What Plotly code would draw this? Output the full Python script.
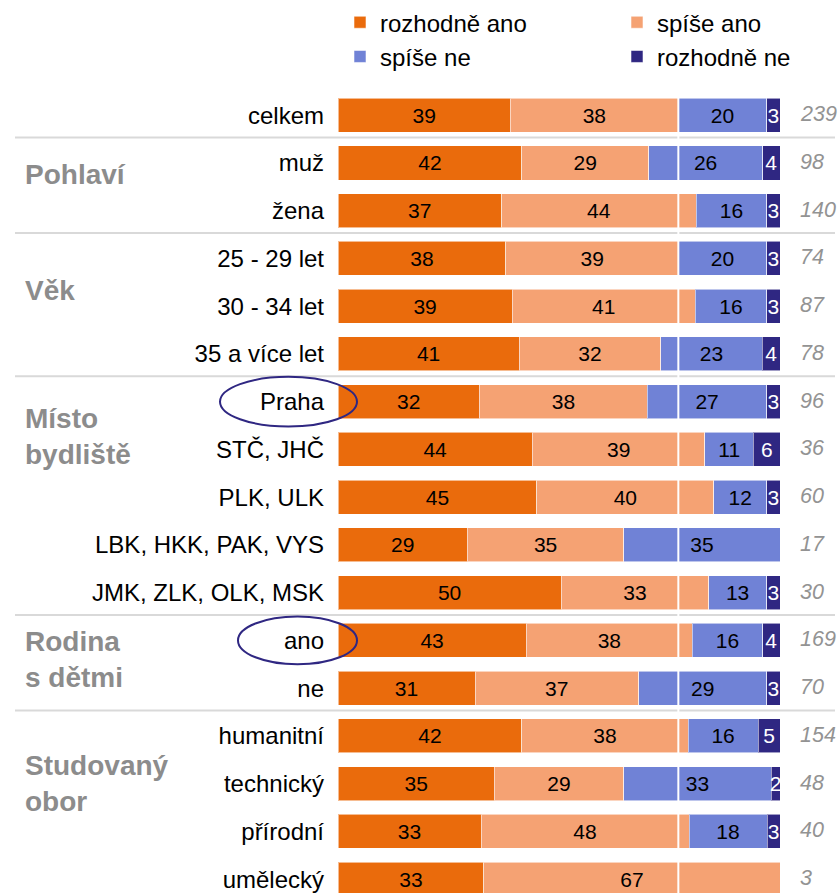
import plotly.graph_objects as go

categories = ["celkem", "muž", "žena", "25 - 29 let", "30 - 34 let", "35 a více let",
              "Praha", "STČ, JHČ", "PLK, ULK", "LBK, HKK, PAK, VYS", "JMK, ZLK, OLK, MSK",
              "ano", "ne", "humanitní", "technický", "přírodní", "umělecký"]
rozhodne_ano = [39, 42, 37, 38, 39, 41, 32, 44, 45, 29, 50, 43, 31, 42, 35, 33, 33]
spise_ano = [38, 29, 44, 39, 41, 32, 38, 39, 40, 35, 33, 38, 37, 38, 29, 48, 67]
spise_ne = [20, 26, 16, 20, 16, 23, 27, 11, 12, 35, 13, 16, 29, 16, 33, 18, 0]
rozhodne_ne = [3, 4, 3, 3, 3, 4, 3, 6, 3, 0, 3, 4, 3, 5, 2, 3, 0]
n_counts = [239, 98, 140, 74, 87, 78, 96, 36, 60, 17, 30, 169, 70, 154, 48, 40, 3]
series_names = ["rozhodně ano", "spíše ano", "spíše ne", "rozhodně ne"]
group_names = ["Pohlaví", "Věk", "Místo<br>bydliště", "Rodina<br>s dětmi", "Studovaný<br>obor"]
highlighted = ["Praha", "ano"]

# styling / layout constants
W, H = 840, 893
ML, MR, MT, MB = 338, 60, 80, 0
PW = W - ML - MR
PH = H - MT - MB
ROW_PX = 48.1
Y_TOP = -(109.4 - MT) / ROW_PX
Y_BOT = Y_TOP + PH / ROW_PX
colors = ["#EA6B0C", "#F5A273", "#7082D6", "#2F2782"]
text_colors = ["black", "black", "black", "white"]
FONT = "Liberation Sans, Arial, sans-serif"
group_label_y = [1.25, 3.68, 6.73, 11.39, 14.0]
separator_after = [0, 2, 5, 10, 12]

ypos = list(range(len(categories)))
series = [rozhodne_ano, spise_ano, spise_ne, rozhodne_ne]
totals = [sum(s[i] for s in series) for i in ypos]

fig = go.Figure()
for k, (name, vals) in enumerate(zip(series_names, series)):
    xs = [v / t * 100 if v else None for v, t in zip(vals, totals)]
    txt = [str(v) if v else "" for v in vals]
    fig.add_trace(go.Bar(
        y=ypos, x=xs, orientation="h", name=name,
        marker=dict(color=colors[k], line=dict(color="rgba(255,255,255,0.55)", width=1)),
        text=txt, textposition="inside", insidetextanchor="middle", textangle=0,
        textfont=dict(size=21, color=text_colors[k], family=FONT),
        width=0.715, cliponaxis=False,
        legend="legend" if k in (0, 2) else "legend2",
    ))

fig.update_layout(
    width=W, height=H, barmode="stack", bargap=0.3,
    margin=dict(l=ML, r=MR, t=MT, b=MB, pad=0),
    plot_bgcolor="white", paper_bgcolor="white",
    font=dict(family=FONT, size=24, color="black"),
    uniformtext=dict(minsize=21, mode="show"),
    xaxis=dict(range=[0, 100], visible=False, showgrid=False, zeroline=False, fixedrange=True),
    yaxis=dict(range=[Y_BOT, Y_TOP], tickmode="array", tickvals=ypos, ticktext=categories,
               showgrid=False, zeroline=False, showline=False, ticks="",
               ticklabeloverflow="allow", fixedrange=True,
               ticklabelstandoff=13, tickfont=dict(size=24, color="black", family=FONT)),
    legend=dict(orientation="v", x=(340 - ML) / PW, xanchor="left", y=1 + (MT + 6.5) / PH, yanchor="top",
                font=dict(size=24, family=FONT), itemwidth=30, tracegroupgap=0,
                traceorder="normal", bgcolor="rgba(0,0,0,0)"),
    legend2=dict(orientation="v", x=(617 - ML) / PW, xanchor="left", y=1 + (MT + 6.5) / PH, yanchor="top",
                 font=dict(size=24, family=FONT), itemwidth=30, tracegroupgap=0,
                 traceorder="normal", bgcolor="rgba(0,0,0,0)"),
    showlegend=True,
)

shapes = []
# separators between groups
for i in separator_after:
    shapes.append(dict(type="line", xref="paper", yref="y",
                       x0=(15 - ML) / PW, x1=(835 - ML) / PW, y0=i + 0.47, y1=i + 0.47,
                       line=dict(color="#D9D9D9", width=2), layer="below"))
# reference line at overall "ano" share
ref_x = (rozhodne_ano[0] + spise_ano[0]) / totals[0] * 100
shapes.append(dict(type="line", xref="x", yref="paper", x0=ref_x, x1=ref_x, y0=0, y1=1,
                   line=dict(color="white", width=2), layer="above"))
# ellipses around highlighted labels
ell = {"Praha": (220, 357, 25), "ano": (238, 357, 24)}
for lab in highlighted:
    i = categories.index(lab)
    x0p, x1p, ry = ell[lab]
    shapes.append(dict(type="circle", xref="paper", yref="y",
                       x0=(x0p - ML) / PW, x1=(x1p - ML) / PW,
                       y0=i - ry / ROW_PX, y1=i + ry / ROW_PX,
                       line=dict(color="#2F2782", width=2), layer="above"))
fig.update_layout(shapes=shapes)

ann = []
for i, n in enumerate(n_counts):
    ann.append(dict(xref="paper", yref="y", x=(798 - ML) / PW, y=i - 0.02, text=f"<i>{n}</i>",
                    showarrow=False, xanchor="left", yanchor="middle",
                    font=dict(size=21.5, color="#939393", family=FONT)))
for g, yy in zip(group_names, group_label_y):
    ann.append(dict(xref="paper", yref="y", x=(23 - ML) / PW, y=yy, text=f"<b>{g}</b>",
                    showarrow=False, xanchor="left", yanchor="middle", align="left",
                    font=dict(size=28, color="#8C8C8C", family=FONT)))
fig.update_layout(annotations=ann)

fig.write_html("out.html", config={"displayModeBar": False, "staticPlot": True},
               post_script="document.body.style.margin='0';document.body.style.overflow='hidden';")
